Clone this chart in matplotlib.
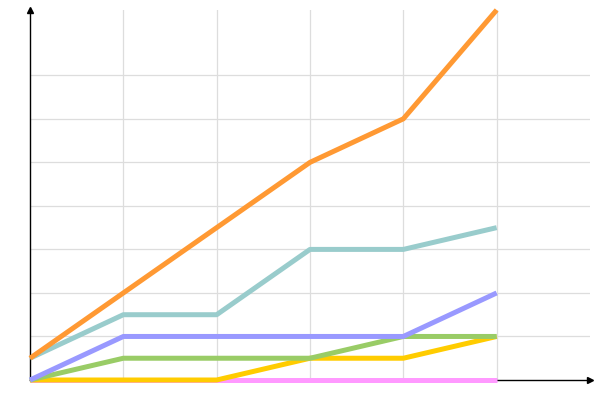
import numpy as np
import matplotlib.pyplot as plt


# Data

X_Values = [0, 1, 2, 3, 4, 5]

Series_Names = ["Pink", "Yellow", "Green", "Purple", "Teal", "Orange"]
Pink_Values = [0, 0, 0, 0, 0, 0]
Yellow_Values = [0, 0, 0, 0.5, 0.5, 1]
Green_Values = [0, 0.5, 0.5, 0.5, 1, 1]
Purple_Values = [0, 1, 1, 1, 1, 2]
Teal_Values = [0.5, 1.5, 1.5, 3, 3, 3.5]
Orange_Values = [0.5, 2, 3.5, 5, 6, 8.5]

Series_Values = [Pink_Values, Yellow_Values, Green_Values, Purple_Values, Teal_Values, Orange_Values]
Series_Colors = ["#ff99ff", "#ffcc00", "#99cc66", "#9999ff", "#99cccc", "#ff9933"]

X_Grid = [1, 2, 3, 4, 5]
Y_Grid = [1, 2, 3, 4, 5, 6, 7]

X_Max = 6
Y_Max = 8.5


# Plotting

fig = plt.figure(figsize= (6, 4), dpi= 100)
ax = fig.add_axes([30 / 600, 20 / 400, 560 / 600, 370 / 400])

ax.set_xlim(0, X_Max)
ax.set_ylim(0, Y_Max)

for x in X_Grid:
    ax.axvline(x, color= "#dddddd", linewidth= 0.9, zorder= 1)
for y in Y_Grid:
    ax.axhline(y, color= "#dddddd", linewidth= 0.9, zorder= 1)

for name, values, color in zip(Series_Names, Series_Values, Series_Colors):
    ax.plot(X_Values, values, color= color, linewidth= 3.6, label= name,
            solid_capstyle= "butt", clip_on= False, zorder= 3)

for side in ["top", "right"]:
    ax.spines[side].set_visible(False)
for side in ["left", "bottom"]:
    ax.spines[side].set_color("black")
    ax.spines[side].set_linewidth(1.0)
    ax.spines[side].set_zorder(2)

# Axis arrows
ax.plot([0], [Y_Max], marker= "^", color= "black", markersize= 4, clip_on= False, zorder= 4)
ax.plot([X_Max], [0], marker= ">", color= "black", markersize= 4, clip_on= False, zorder= 4)

ax.set_xticks([])
ax.set_yticks([])

plt.savefig("out.png", dpi= 100)
